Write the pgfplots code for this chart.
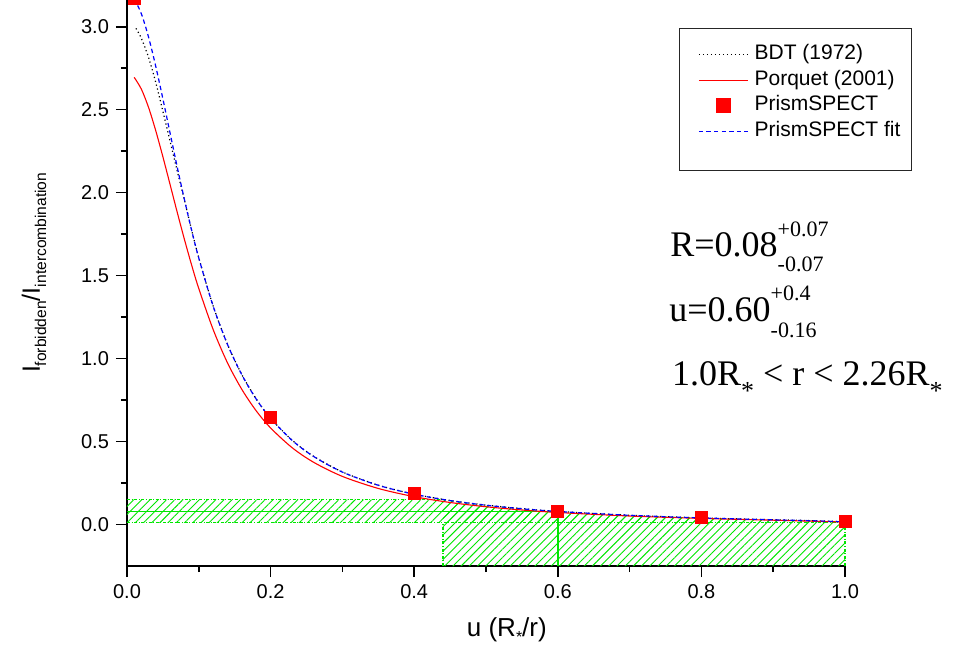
\documentclass[border=0pt]{standalone}
\usepackage{fontspec}
\setmainfont{Liberation Sans}
\newfontfamily\serif{Liberation Serif}
\usepackage{pgfplots}
\pgfplotsset{compat=1.18}
\usetikzlibrary{patterns.meta}
\newcommand\supsub[4]{\makebox[0pt][l]{\raisebox{#3}{\fontsize{11}{11}\selectfont #1}}\raisebox{#4}{\fontsize{11}{11}\selectfont #2}}
\newcommand\subast{\raisebox{-7.3pt}{\fontsize{13}{13}\selectfont *}}
\definecolor{hgreen}{RGB}{0,230,0}
\pgfplotsset{
  lineleg/.style={legend image code/.code={\draw[##1] (0pt,0pt) -- (24.5pt,0pt);}},
  markleg/.style={legend image code/.code={\path[draw=none,fill=none] (0pt,-1pt) rectangle (24.5pt,1pt); \draw[##1, mark size=3.5pt] plot coordinates {(12.25pt,0pt)};}},
}
\begin{document}
\begin{tikzpicture}
\begin{axis}[
  scale only axis, width=359pt, height=283pt,
  xmin=0, xmax=1, ymin=-0.25, ymax=3.161,
  axis x line*=bottom, axis y line*=left,
  axis line style={line width=1pt},
  tick align=outside,
  major tick length=5.5pt, minor tick length=3pt,
  every tick/.style={black, line width=0.8pt},
  xtick={0,0.2,0.4,0.6,0.8,1.0}, ytick={0,0.5,1.0,1.5,2.0,2.5,3.0},
  minor x tick num=1, minor y tick num=1,
  /pgf/number format/assume math mode=true,
  ticklabel style={font=\fontsize{10}{12}\selectfont, /pgf/number format/.cd, fixed, fixed zerofill, precision=1},
  xlabel={u (R\raisebox{-3pt}{\fontsize{8}{8}\selectfont *}/r)},
  every axis x label/.style={at={(axis description cs:0.529,-0.113)}, anchor=center, font=\fontsize{13}{15}\selectfont},
  ylabel={I\raisebox{-3.2pt}{\fontsize{7.8}{9}\selectfont forbidden}/I\raisebox{-3.2pt}{\fontsize{7.8}{9}\selectfont intercombination}},
  every axis y label/.style={at={(axis description cs:-0.1295,0.518)}, anchor=center, rotate=90, font=\fontsize{12.5}{14}\selectfont},
  clip=false,
  legend cell align=left,
  legend style={draw=none, fill=none, at={(axis description cs:0.795,0.927)}, anchor=north west,
    font=\fontsize{10.5}{12}\selectfont, row sep=0pt, column sep=1.5pt, inner xsep=0pt, inner ysep=0pt,
    nodes={inner xsep=1.6pt, inner ysep=1.7pt, text height=7.2pt, text depth=2.2pt}},
]
% hatched uncertainty regions
\addplot[draw=none, pattern={Lines[angle=45,distance=2.9pt,line width=0.45pt]}, pattern color=hgreen, forget plot]
  coordinates {(0,0.01)(0,0.15)(0.44,0.15)(0.45,0.1443)(0.5,0.1162)(0.55,0.0951)(0.6,0.0788)(0.7,0.0556)(0.8,0.0399)(0.9,0.0284)(0.95,0.0233)(1.0,0.0161)(1.0,0.01)} -- cycle;
\addplot[draw=none, pattern={Lines[angle=45,distance=2.9pt,line width=0.45pt]}, pattern color=hgreen, forget plot]
  coordinates {(0.44,-0.25)(0.44,0.15)(0.45,0.1443)(0.5,0.1162)(0.55,0.0951)(0.6,0.0788)(0.7,0.0556)(0.8,0.0399)(0.9,0.0284)(0.95,0.0233)(1.0,0.0161)(1.0,-0.25)} -- cycle;
\addplot[hgreen, line width=0.6pt, dash pattern=on 1.5pt off 0.8pt on 0.5pt off 0.8pt, forget plot] coordinates {(0,0.15)(0.44,0.15)};
\addplot[hgreen, line width=0.6pt, dash pattern=on 1.5pt off 0.8pt on 0.5pt off 0.8pt, forget plot] coordinates {(0,0.01)(1.0,0.01)};
\addplot[hgreen, line width=0.6pt, dash pattern=on 1.5pt off 0.8pt on 0.5pt off 0.8pt, forget plot] coordinates {(0.44,-0.25)(0.44,0.01)};
\addplot[hgreen, line width=0.6pt, dash pattern=on 1.5pt off 0.8pt on 0.5pt off 0.8pt, forget plot] coordinates {(1.0,-0.25)(1.0,0.0161)};
\addplot[hgreen, line width=0.7pt, forget plot] coordinates {(0,0.08)(0.6,0.08)(0.6,-0.25)};
% BDT
\addplot[black, line width=0.6pt, dash pattern=on 0.6pt off 1.4pt, smooth, lineleg]
  coordinates {(0.0125,2.99)(0.02,2.93)(0.03,2.815)(0.04,2.665)(0.05,2.49)(0.06,2.31)(0.07,2.13)(0.08,1.955)(0.09,1.775)(0.10,1.607)(0.12,1.317)(0.14,1.086)(0.16,0.903)(0.18,0.757)(0.20,0.641)(0.23,0.508)(0.26,0.411)(0.30,0.317)(0.35,0.237)(0.40,0.183)(0.45,0.145)(0.50,0.117)(0.55,0.096)(0.60,0.079)(0.70,0.056)(0.80,0.040)(0.90,0.029)(0.95,0.024)(1.00,0.017)};
\addlegendentry{BDT (1972)}
% Porquet
\addplot[red, line width=0.55pt, smooth, lineleg]
  coordinates {(0.01,2.695)(0.02,2.624)(0.03,2.514)(0.04,2.374)(0.05,2.216)(0.06,2.049)(0.07,1.881)(0.08,1.718)(0.09,1.564)(0.10,1.422)(0.12,1.175)(0.14,0.974)(0.16,0.814)(0.18,0.685)(0.20,0.582)(0.23,0.463)(0.26,0.375)(0.30,0.290)(0.35,0.2174)(0.40,0.168)(0.45,0.1329)(0.50,0.1072)(0.55,0.0877)(0.60,0.0727)(0.70,0.0513)(0.80,0.0369)(0.90,0.0262)(1.00,0.0149)};
\addlegendentry{Porquet (2001)}
% PrismSPECT points
\addplot[only marks, mark=square*, mark size=3pt, color=red, mark options={fill=red, draw=red}, markleg]
  coordinates {(0.01,3.17)(0.2,0.645)(0.4,0.19)(0.6,0.080)(0.8,0.041)(1.0,0.017)};
\addlegendentry{PrismSPECT}
% PrismSPECT fit
\addplot[blue, line width=0.6pt, dash pattern=on 2.2pt off 1.6pt, smooth, lineleg]
  coordinates {(0.01,3.169)(0.02,3.078)(0.03,2.938)(0.04,2.762)(0.05,2.565)(0.06,2.359)(0.07,2.154)(0.08,1.958)(0.09,1.774)(0.10,1.606)(0.12,1.316)(0.14,1.085)(0.16,0.902)(0.18,0.756)(0.20,0.640)(0.23,0.507)(0.26,0.410)(0.30,0.316)(0.35,0.2365)(0.40,0.1825)(0.45,0.1443)(0.50,0.1162)(0.55,0.0951)(0.60,0.0788)(0.70,0.0556)(0.80,0.0399)(0.90,0.0284)(0.95,0.0233)(1.00,0.0161)};
\addlegendentry{PrismSPECT fit}
% legend frame and annotation anchors
\coordinate (lbA) at (axis description cs:0.770,0.950);
\coordinate (lbB) at (axis description cs:1.0928,0.6996);
\node[anchor=base west, font=\serif\fontsize{18}{20}\selectfont, inner sep=0pt] at (axis description cs:0.7563,0.5477) {R=0.08\supsub{+0.07}{-0.07}{10pt}{-7.8pt}};
\node[anchor=base west, font=\serif\fontsize{18}{20}\selectfont, inner sep=0pt] at (axis description cs:0.7549,0.4316) {u=0.60\supsub{+0.4}{-0.16}{10.8pt}{-7.8pt}};
\node[anchor=base west, font=\serif\fontsize{18}{20}\selectfont, inner sep=0pt] at (axis description cs:0.7586,0.3198) {1.0R\subast{} {\textless} r {\textless} 2.26R\subast};
\end{axis}
\draw[line width=0.5pt, black!85] (lbA) rectangle (lbB);
\pgfresetboundingbox
\path[use as bounding box] ([shift={(-63.5pt,-46pt)}]current axis.south west) rectangle ([shift={(59.5pt,0pt)}]current axis.north east);
\end{tikzpicture}
\end{document}
